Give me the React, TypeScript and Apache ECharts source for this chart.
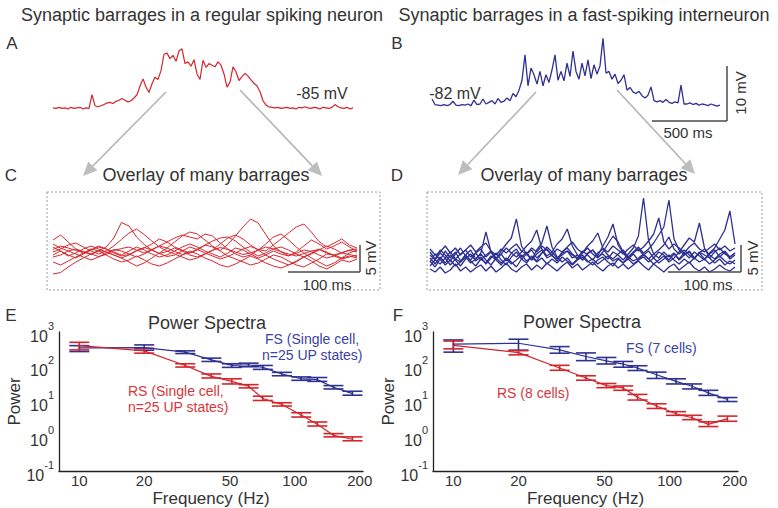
import React, { useEffect, useRef } from 'react';
import * as echarts from 'echarts';

const FONT = '"Liberation Sans", Arial, Helvetica, sans-serif';
const RED = '#d4252c';
const BLUE = '#2e3192';
const TEXT = '#333333';

// ---- Panel A / B : single barrages (mV, one sample every 20 ms) ----
const traceStepMs = 20;
const rsTrace = [
  -85.0, -85.1, -84.9, -85.1, -85.0, -85.2, -84.9, -85.1, -85.0, -84.9,
  -85.2, -85.0, -85.1, -82.6, -84.6, -84.8, -84.6, -84.4, -84.1, -84.0,
  -84.2, -83.8, -83.6, -83.3, -83.6, -83.9, -83.7, -83.2, -82.6, -81.0,
  -79.7, -81.2, -82.2, -80.6, -79.4, -79.8, -78.2, -75.2, -75.0, -76.0,
  -75.4, -76.5, -74.6, -74.2, -76.9, -76.6, -77.4, -76.2, -78.8, -79.8,
  -76.3, -77.6, -76.9, -77.2, -77.5, -76.6, -77.2, -78.8, -81.2, -80.3,
  -77.5, -78.4, -80.0, -79.3, -78.7, -79.2, -79.9, -80.5, -81.0, -82.0,
  -83.7, -84.5, -84.8, -84.9, -85.0, -84.9, -85.1, -85.0, -84.9, -85.1,
  -85.0, -85.2, -84.9, -85.0, -84.8, -85.0, -85.1, -84.9, -85.0, -85.2,
  -84.9, -85.0, -85.1, -84.9, -84.4, -84.8, -85.0, -85.1, -84.9, -85.2,
  -85.0,
];
const fsTrace = [
  -80.9, -81.9, -82.0, -82.1, -81.9, -82.1, -81.9, -81.3, -82.0, -82.1,
  -81.9, -82.0, -81.8, -82.1, -81.1, -81.9, -81.8, -80.9, -81.8, -81.5,
  -81.2, -81.8, -80.8, -81.5, -81.3, -80.7, -81.2, -79.9, -80.5, -79.3,
  -77.5, -72.9, -78.5, -75.3, -76.5, -78.2, -75.9, -78.5, -76.5, -77.9,
  -75.6, -72.9, -77.5, -75.9, -77.6, -74.4, -76.8, -72.2, -75.9, -77.3,
  -74.4, -76.7, -73.8, -77.2, -74.7, -76.4, -74.9, -69.9, -76.2, -75.9,
  -77.3, -76.4, -78.1, -77.5, -76.5, -79.3, -78.8, -79.6, -79.9, -79.5,
  -80.3, -80.7, -80.2, -78.7, -81.2, -81.4, -81.2, -81.5, -81.0, -81.5,
  -81.7, -81.4, -81.6, -78.4, -81.8, -81.8, -81.6, -81.9, -81.7, -82.0,
  -81.8, -81.9, -82.1, -81.8, -82.0, -82.2, -82.0,
];

// ---- Panel C : overlay of RS barrages (mV re. mean, every 10 ms) ----
const rsOverlayStepMs = 10;
const rsOverlays = [
  [0.5, 1.2, 0.8, 0.3, 0.0, -0.5, 0.2, 1.0, 2.8, 5.9, 5.2, 3.0, 1.5, 0.4, -0.3, 0.1, 0.8, 0.2, -0.6, -1.0, -0.4, 0.3, 0.9, 0.5, 0.0, -0.5, -0.2, 0.4, 1.0, 0.6, 0.1, -0.4, -0.8, -0.3, 0.2, 0.5, -0.2, -0.6, -0.1, 0.3, 0.0],
  [-1.0, -0.6, 0.2, 0.6, 0.1, -0.4, -0.9, -0.5, 0.3, 0.7, 1.0, 0.4, -0.2, 0.5, 1.2, 0.8, 0.1, -0.5, -0.2, 0.6, 1.4, 1.0, 0.3, 1.5, 3.2, 5.0, 6.6, 5.8, 3.5, 1.2, 0.0, -0.7, -0.3, 0.4, 0.1, -0.6, -1.2, -0.8, -0.2, -0.5, -0.9],
  [2.4, 3.4, 2.0, 0.6, -0.3, 0.4, 1.2, 0.6, -0.2, -0.8, -0.5, 0.3, 0.9, 0.4, -0.3, -0.9, -0.6, 0.2, 1.0, 0.5, -0.2, -0.8, -1.4, -0.9, -0.2, 0.6, 1.1, 0.5, 0.2, 1.4, 2.6, 3.8, 5.0, 5.6, 4.0, 2.1, 1.0, 1.8, 2.6, 1.4, 0.8],
  [-4.4, -4.1, -3.0, -2.0, -1.2, -0.4, 0.3, 0.0, -0.6, -1.2, -2.0, -2.8, -2.2, -1.2, -0.2, 0.8, 2.0, 3.2, 4.0, 3.6, 2.4, 1.2, 0.2, -0.8, -1.4, -2.0, -2.6, -2.2, -1.4, -0.6, -1.0, -1.8, -2.6, -3.0, -2.2, -1.4, -0.4, -0.6, -1.2, -0.8, -1.2],
  [0.0, 0.6, 1.4, 1.8, 1.0, 0.2, -0.4, 0.2, 1.2, 2.5, 3.8, 4.6, 3.5, 2.2, 1.0, 0.2, -0.4, -1.0, -1.6, -1.2, -0.4, 0.4, 1.6, 2.8, 3.4, 2.6, 1.4, 0.4, -0.6, -1.4, -2.0, -2.6, -2.0, -1.0, -0.2, 0.6, 0.0, -0.8, -1.4, -1.0, -0.6],
  [1.6, 0.8, 0.2, -0.4, -1.0, -1.6, -1.0, -0.2, 0.5, 0.2, -0.4, -1.0, -0.4, 0.4, 1.2, 2.0, 2.8, 3.4, 3.0, 2.6, 3.6, 3.2, 1.8, 0.6, -0.4, -1.0, -0.6, 0.4, 1.6, 3.0, 3.6, 2.4, 1.0, -0.2, -1.2, -2.0, -2.8, -2.2, -1.2, -0.2, 0.4],
  [-2.0, -2.6, -1.8, -1.0, -0.2, 0.6, 0.2, -0.6, -1.4, -2.0, -1.6, -0.8, -1.6, -2.4, -2.8, -2.2, -1.4, -0.6, 0.2, -0.4, -1.2, -1.8, -2.6, -3.0, -2.4, -1.6, -0.8, -1.4, -2.2, -2.8, -3.2, -2.6, -1.8, -1.0, -1.8, -2.8, -3.4, -2.6, -1.6, -2.0, -1.4],
  [-0.6, 0.2, -0.6, -1.2, -0.4, 0.4, 1.0, 0.6, 0.0, -0.6, 0.2, 1.0, 0.4, -0.4, -1.0, -0.6, 0.2, 1.0, 1.6, 1.0, 0.2, -0.4, -1.0, -0.2, 0.8, 0.4, -0.4, -1.2, -0.6, 0.2, -0.4, -0.8, 0.0, 1.2, 2.4, 1.6, 0.6, 1.2, 2.0, 1.0, 0.2],
  [1.0, 0.2, -0.8, -0.2, 0.6, 1.2, 0.6, 0.0, -0.6, -1.2, -0.6, 0.2, 0.8, 1.6, 2.6, 2.0, 1.0, 0.4, -0.2, 0.4, 1.4, 2.2, 2.8, 3.0, 2.2, 1.0, 0.0, -0.8, -0.2, 0.6, 1.0, 0.4, -0.4, -1.0, -0.4, 0.4, 1.2, 0.6, -0.2, 0.4, 0.6],
];

// ---- Panel D : overlay of FS barrages (mV re. mean, every 7 ms) ----
const fsOverlayStepMs = 7;
const fsOverlays = [
  [-1.2, 0.4, -0.8, 1.0, -0.4, 0.8, -1.0, 0.2, 1.2, -0.6, 0.6, 4.8, 0.8, -0.6, 0.4, -1.0, 0.6, 1.4, -0.2, 0.8, -0.8, 0.4, 1.2, -0.4, 0.2, -1.0, 0.6, 1.0, -0.4, 0.2, -0.8, 0.6, 1.2, -0.2, 0.4, -0.6, 0.8, 0.2, -0.8, 0.4, 1.6, 4.0, 11.6, 3.0, 0.4, -0.4, 0.8, -0.2, 0.6, -0.8, 0.2, 1.0, -0.4, 0.6, -0.6, 0.4, 1.2, -0.2, 0.8, -0.6, 0.2],
  [0.8, -0.6, 1.2, 0.2, -1.0, 0.4, 1.6, 0.0, -0.8, 0.6, 1.4, -0.2, 0.8, -0.6, 1.0, 2.4, 3.6, 7.4, 2.0, 0.4, 1.2, -0.4, 0.6, 1.4, 0.0, -0.6, 0.8, 1.6, 0.4, -0.4, 1.0, 0.2, -0.8, 0.6, 1.4, 0.2, -0.6, 0.4, 1.2, -0.2, 0.8, 1.8, 0.6, 1.4, 2.6, 4.2, 5.8, 11.2, 3.4, 1.2, 0.2, 0.8, -0.4, 0.6, 1.4, 0.2, -0.6, 0.4, 1.0, -0.2, 0.6],
  [-2.0, -0.8, -1.6, -0.4, -1.8, -0.6, -1.2, 0.2, -1.0, -2.0, -0.6, -1.4, 0.0, -0.8, -1.8, -0.4, -1.2, -2.2, -0.6, 0.4, -0.8, 1.2, 2.6, 6.0, 1.8, -0.2, -1.2, -0.4, -1.6, -0.6, 0.2, -1.0, -1.8, -0.8, -0.2, -1.2, -2.0, -0.6, -1.4, -0.2, -1.0, -0.4, 0.4, -0.6, -1.6, -0.8, 0.0, -1.2, -0.4, 0.8, 2.2, 3.6, 2.8, 6.6, 1.6, -0.4, -1.4, -0.6, -1.8, -1.0, -1.6],
  [-0.4, -1.6, -0.2, -1.4, 0.2, -0.8, -2.0, -0.6, 0.4, -1.0, -0.2, -1.6, -0.4, 0.6, -0.8, -1.8, -0.2, 0.8, -0.6, -1.4, 0.0, -1.0, 0.6, 1.8, 0.8, 2.4, 3.4, 5.4, 2.0, 0.2, -0.8, 0.4, 1.2, 0.0, 2.0, 3.8, 6.4, 2.2, 0.6, -0.6, 0.4, -0.8, 0.2, 1.0, -0.4, 0.8, 0.2, -0.8, 0.4, -0.6, 0.6, -0.4, 0.8, 0.0, -0.8, 0.6, 1.6, 3.4, 5.2, 9.0, 2.4],
  [1.4, 0.2, 0.8, 2.0, 0.6, 1.6, 0.2, 1.2, 2.2, 0.8, 1.8, 2.6, 1.0, 0.2, 1.4, 0.6, 1.6, 2.4, 1.0, 0.4, 1.6, 0.8, 2.0, 1.2, 0.2, 1.4, 0.8, 1.8, 2.8, 1.4, 0.6, 2.0, 3.0, 4.6, 1.6, 0.8, 2.0, 1.2, 0.4, 1.4, 2.2, 1.0, 1.8, 3.0, 4.4, 7.6, 2.8, 1.4, 2.4, 1.6, 0.6, 1.8, 2.6, 1.4, 0.8, 1.6, 2.4, 1.2, 2.0, 1.0, 1.6],
  [-2.6, -3.2, -2.2, -3.4, -2.8, -1.6, -3.0, -2.2, -3.2, -2.4, -1.8, -3.0, -2.0, -3.2, -2.4, -1.4, -2.6, -3.2, -2.2, -1.6, -2.8, -1.8, -2.6, -1.4, -2.2, -3.0, -2.0, -1.2, -2.4, -1.6, -2.8, -2.0, -1.2, -2.2, -3.0, -2.0, -1.4, -2.4, -1.6, -2.6, -1.8, -1.0, -2.0, -2.8, -1.6, -2.4, -3.2, -2.2, -1.6, -2.8, -2.0, -1.2, -2.4, -3.0, -2.2, -3.2, -2.6, -1.8, -2.6, -3.0, -2.2],
  [0.2, -0.8, 0.6, -0.4, 0.8, -0.6, 0.4, 1.2, -0.2, 0.6, -0.8, 0.2, 1.0, -0.4, 0.4, 1.6, 0.6, -0.2, 0.8, 2.0, 3.0, 5.2, 1.4, 0.0, 0.8, -0.4, 0.2, 1.0, 0.2, -0.6, 0.6, 1.6, 0.4, -0.4, 0.8, 2.4, 4.0, 2.8, 0.8, -0.2, 0.6, 1.4, 0.2, -0.6, 0.4, 1.2, 2.2, 3.8, 1.4, 0.4, 1.2, 0.2, -0.6, 0.8, 0.2, -0.4, 0.8, 1.6, 0.4, -0.2, 0.6],
  [-1.0, -2.2, -0.6, -1.8, -0.8, -2.0, -1.2, -0.2, -1.4, -0.6, 0.4, -0.8, -1.8, -0.4, -1.4, -0.6, -1.6, -0.8, 0.2, -1.0, -0.2, -1.2, -0.4, -1.6, -0.6, -1.4, -0.2, -1.0, -1.8, -0.8, -0.2, -1.2, -0.6, -1.6, -0.8, 0.0, -1.0, -0.4, -1.4, -0.6, -1.6, -0.8, -0.2, -1.2, -0.4, -1.4, -0.6, 0.2, -0.8, -1.6, -0.6, -1.4, -0.4, -1.2, -0.6, -1.6, -0.8, 0.0, -1.0, -1.6, -0.8],
];

// ---- Panels E / F : power spectra ----
const freqHz = [10, 20, 31, 41, 51, 61, 71, 87, 107, 127, 151, 185];
const freqTicks = [10, 20, 50, 100, 200];

const eRsMean = [407, 287, 109, 53, 38, 27.4, 12.2, 8.2, 4.07, 2.2, 1.07, 0.82];
const eRsLo = [306, 246, 98, 47.5, 32, 24.6, 10.7, 7.4, 3.57, 1.97, 0.96, 0.74];
const eRsHi = [505, 341, 122, 62, 45, 30.6, 14.2, 9.2, 4.75, 2.57, 1.19, 0.96];
const eFsMean = [350, 356, 263, 158, 109, 114, 96, 62, 45.4, 42.5, 25.7, 16.9];
const eFsLo = [274, 300, 240, 142, 96, 100, 84, 55, 40.7, 38, 23, 15.2];
const eFsHi = [405, 425, 287, 177, 122, 127, 109, 69, 51, 49, 28.7, 19.7];

const fRsMean = [410, 255, 92, 47.5, 28.7, 24.6, 13.3, 7.4, 4.44, 3.41, 2.2, 3.2];
const fRsLo = [327, 220, 79, 41, 25, 21, 11, 6.3, 4.0, 3.0, 1.9, 2.7];
const fRsHi = [550, 290, 110, 55, 33, 28, 16, 8.6, 5.1, 4.0, 2.6, 3.8];
const fFsMean = [450, 475, 306, 197, 148, 119, 92, 59, 38, 27.4, 17.7, 11.4];
const fFsLo = [263, 300, 245, 150, 120, 97, 78, 46, 32, 23, 15, 10];
const fFsHi = [590, 620, 380, 250, 185, 142, 107, 70, 45, 32, 21, 13];

const powerMin = 0.1;
const powerMax = 1000;
const freqMin = 8.05;
const freqMax = 207;

// ---------------- helpers ----------------
function txt(x: number, y: number, text: string, size: number, opts: any = {}) {
  return {
    type: 'text',
    x,
    y,
    rotation: opts.rotation || 0,
    silent: true,
    z: 100,
    style: {
      text,
      fontSize: size,
      fontFamily: FONT,
      fill: opts.color || TEXT,
      align: opts.align || 'center',
      verticalAlign: 'middle',
    },
  };
}
function seg(x1: number, y1: number, x2: number, y2: number, color: string, width: number, dash?: number[]) {
  return {
    type: 'line',
    silent: true,
    z: 100,
    shape: { x1, y1, x2, y2 },
    style: { stroke: color, lineWidth: width, lineDash: dash },
  };
}
function arrow(x1: number, y1: number, x2: number, y2: number) {
  const dx = x2 - x1;
  const dy = y2 - y1;
  const len = Math.sqrt(dx * dx + dy * dy);
  const ux = dx / len;
  const uy = dy / len;
  const hl = 14;
  const hw = 6.5;
  const bx = x2 - ux * hl;
  const by = y2 - uy * hl;
  return [
    seg(x1, y1, bx, by, '#b4b4b4', 1.6),
    {
      type: 'polygon',
      silent: true,
      z: 100,
      shape: { points: [[x2, y2], [bx - uy * hw, by + ux * hw], [bx + uy * hw, by - ux * hw]] },
      style: { fill: '#bdbdbd' },
    },
  ];
}

function traceSeries(values: number[], step: number, gi: number, color: string, width: number) {
  return {
    type: 'line',
    xAxisIndex: gi,
    yAxisIndex: gi,
    data: values.map((v, i) => [i * step, v]),
    symbol: 'none',
    silent: true,
    lineStyle: { color, width },
  };
}

function errorSeries(lo: number[], hi: number[], gi: number, color: string) {
  return {
    type: 'custom',
    xAxisIndex: gi,
    yAxisIndex: gi,
    silent: true,
    clip: false,
    data: freqHz.map((f, i) => [f, lo[i], hi[i]]),
    encode: { x: 0, y: [1, 2] },
    renderItem: (params: any, api: any) => {
      const f = api.value(0);
      const pLo = api.coord([f, api.value(1)]);
      const pHi = api.coord([f, api.value(2)]);
      const w = 10;
      const style = { stroke: color, lineWidth: 1.6 };
      return {
        type: 'group',
        children: [
          { type: 'line', shape: { x1: pLo[0], y1: pLo[1], x2: pHi[0], y2: pHi[1] }, style },
          { type: 'line', shape: { x1: pLo[0] - w, y1: pLo[1], x2: pLo[0] + w, y2: pLo[1] }, style },
          { type: 'line', shape: { x1: pHi[0] - w, y1: pHi[1], x2: pHi[0] + w, y2: pHi[1] }, style },
        ],
      };
    },
  };
}

function meanSeries(mean: number[], gi: number, color: string) {
  return {
    type: 'line',
    xAxisIndex: gi,
    yAxisIndex: gi,
    data: freqHz.map((f, i) => [f, mean[i]]),
    symbol: 'none',
    silent: true,
    lineStyle: { color, width: 1.2 },
  };
}

function tickLabelSeries(gi: number) {
  return {
    type: 'custom',
    xAxisIndex: gi,
    yAxisIndex: gi,
    silent: true,
    clip: false,
    data: freqTicks.map((t) => [t, powerMin]),
    encode: { x: 0, y: 1 },
    renderItem: (params: any, api: any) => {
      const p = api.coord([api.value(0), api.value(1)]);
      return {
        type: 'text',
        x: p[0],
        y: p[1] + 2,
        style: {
          text: String(api.value(0)),
          fill: TEXT,
          fontSize: 15,
          fontFamily: FONT,
          align: 'center',
          verticalAlign: 'top',
        },
      };
    },
  };
}

const hiddenAxis = (gi: number, min: number, max: number) => ({
  gridIndex: gi,
  type: 'value',
  show: false,
  min,
  max,
  splitLine: { show: false },
});

function logX(gi: number) {
  return {
    gridIndex: gi,
    type: 'log',
    logBase: 10,
    min: freqMin,
    max: freqMax,
    axisLine: { show: true, lineStyle: { color: '#222', width: 1.3 } },
    axisTick: { show: false },
    axisLabel: { show: false },
    splitLine: { show: false },
    name: 'Frequency (Hz)',
    nameLocation: 'middle',
    nameGap: 19,
    nameTextStyle: { fontSize: 17, fontFamily: FONT, color: TEXT, lineHeight: 17 },
  };
}
function logY(gi: number, nameGap: number) {
  return {
    gridIndex: gi,
    type: 'log',
    logBase: 10,
    min: powerMin,
    max: powerMax,
    axisLine: { show: true, lineStyle: { color: '#222', width: 1.3 } },
    axisTick: { show: false },
    splitLine: { show: false },
    axisLabel: {
      margin: 5,
      formatter: (v: number) => `{b|10}{s|${Math.round(Math.log10(v))}}`,
      rich: {
        b: { fontSize: 16, fontFamily: FONT, color: TEXT, verticalAlign: 'bottom', padding: [8, 0, 0, 0] },
        s: { fontSize: 11, fontFamily: FONT, color: TEXT, verticalAlign: 'top' },
      },
    },
    name: 'Power',
    nameLocation: 'middle',
    nameRotate: 90,
    nameGap,
    nameTextStyle: { fontSize: 17, fontFamily: FONT, color: TEXT },
  };
}

function buildOption() {
  const grids = [
    { left: 53, top: 40, width: 300, height: 75 }, // A
    { left: 432, top: 30, width: 288, height: 90 }, // B
    { left: 53, top: 210, width: 304, height: 72 }, // C
    { left: 430, top: 195, width: 305, height: 90 }, // D
    { left: 59, top: 332, width: 304, height: 140 }, // E
    { left: 433, top: 332, width: 305, height: 140 }, // F
  ];

  const xAxis = [
    hiddenAxis(0, 0, (rsTrace.length - 1) * traceStepMs),
    hiddenAxis(1, 0, (fsTrace.length - 1) * traceStepMs),
    hiddenAxis(2, 0, (rsOverlays[0].length - 1) * rsOverlayStepMs),
    hiddenAxis(3, 0, (fsOverlays[0].length - 1) * fsOverlayStepMs),
    logX(4),
    logX(5),
  ];
  const yAxis = [
    hiddenAxis(0, -86.3, -72.6),
    hiddenAxis(1, -84.7, -68.4),
    hiddenAxis(2, -6, 8.4),
    hiddenAxis(3, -5.8, 12.2),
    logY(4, 36),
    logY(5, 32),
  ];

  const series: any[] = [
    traceSeries(rsTrace, traceStepMs, 0, RED, 1.2),
    traceSeries(fsTrace, traceStepMs, 1, BLUE, 1.3),
    ...rsOverlays.map((t) => traceSeries(t, rsOverlayStepMs, 2, '#d8272e', 1)),
    ...fsOverlays.map((t) => traceSeries(t, fsOverlayStepMs, 3, BLUE, 1.3)),
    meanSeries(eFsMean, 4, BLUE),
    errorSeries(eFsLo, eFsHi, 4, BLUE),
    meanSeries(eRsMean, 4, RED),
    errorSeries(eRsLo, eRsHi, 4, RED),
    meanSeries(fFsMean, 5, BLUE),
    errorSeries(fFsLo, fFsHi, 5, BLUE),
    meanSeries(fRsMean, 5, RED),
    errorSeries(fRsLo, fRsHi, 5, RED),
    tickLabelSeries(4),
    tickLabelSeries(5),
  ];

  const BAR = '#4a4a4a';
  const graphic: any[] = [
    txt(202, 15, 'Synaptic barrages in a regular spiking neuron', 18),
    txt(584, 15, 'Synaptic barrages in a fast-spiking interneuron', 18),
    txt(12, 43, 'A', 17),
    txt(397, 43, 'B', 17),
    txt(11, 175, 'C', 17),
    txt(397, 175, 'D', 17),
    txt(11, 315, 'E', 17),
    txt(398, 315, 'F', 17),
    txt(322, 93, '-85 mV', 16),
    txt(455, 93, '-82 mV', 16),
    txt(206, 175, 'Overlay of many barrages', 18),
    txt(584, 175, 'Overlay of many barrages', 18),
    txt(207, 323, 'Power Spectra', 18),
    txt(582, 322, 'Power Spectra', 18),
    txt(265, 339, 'FS (Single cell,', 14, { color: '#3a43a2', align: 'left' }),
    txt(262, 355, 'n=25 UP states)', 14, { color: '#3a43a2', align: 'left' }),
    txt(128, 391, 'RS (Single cell,', 14, { color: '#d6363b', align: 'left' }),
    txt(128, 407, 'n=25 UP states)', 14, { color: '#d6363b', align: 'left' }),
    txt(626, 348, 'FS (7 cells)', 14, { color: '#3a43a2', align: 'left' }),
    txt(497, 393, 'RS (8 cells)', 14, { color: '#d6363b', align: 'left' }),
    // scale bars
    seg(727, 66, 727, 121, BAR, 1.5),
    seg(652, 121, 727, 121, BAR, 1.5),
    txt(740, 93, '10 mV', 15, { rotation: Math.PI / 2 }),
    txt(688, 132, '500 ms', 15),
    seg(360, 245, 360, 272, BAR, 1.5),
    seg(288, 272, 360, 272, BAR, 1.5),
    txt(327, 284, '100 ms', 15),
    txt(370, 258, '5 mV', 15, { rotation: Math.PI / 2 }),
    seg(741, 245, 741, 272, BAR, 1.5),
    seg(668, 272, 741, 272, BAR, 1.5),
    txt(708, 284, '100 ms', 15),
    txt(752, 258, '5 mV', 15, { rotation: Math.PI / 2 }),
    // dotted frames
    {
      type: 'rect', silent: true, z: 90,
      shape: { x: 47, y: 192, width: 333, height: 98 },
      style: { fill: 'none', stroke: '#9a9a9a', lineWidth: 1, lineDash: [2, 2] },
    },
    {
      type: 'rect', silent: true, z: 90,
      shape: { x: 427, y: 192, width: 335, height: 98 },
      style: { fill: 'none', stroke: '#9a9a9a', lineWidth: 1, lineDash: [2, 2] },
    },
    // arrows
    ...arrow(166, 92, 83, 176),
    ...arrow(240, 90, 322, 176),
    ...arrow(536, 92, 458, 175),
    ...arrow(617, 90, 695, 174),
  ];

  return {
    animation: false,
    backgroundColor: '#ffffff',
    grid: grids,
    xAxis,
    yAxis,
    series,
    graphic,
  };
}

export default function App() {
  const ref = useRef<HTMLDivElement>(null);
  useEffect(() => {
    document.body.style.margin = '0';
    const chart = echarts.init(ref.current as HTMLDivElement, null, { renderer: 'svg' });
    chart.setOption(buildOption() as any);
    return () => chart.dispose();
  }, []);
  return <div ref={ref} style={{ width: 778, height: 508, background: '#fff' }} />;
}
